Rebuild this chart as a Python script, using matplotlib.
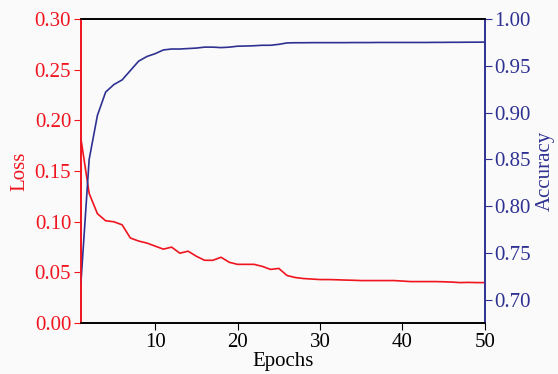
import numpy as np
import matplotlib.pyplot as plt

plt.rcParams['font.family'] = ['Liberation Serif', 'DejaVu Serif']

epochs = np.arange(1, 51)
loss = [0.182, 0.128, 0.108, 0.101, 0.100, 0.097, 0.084, 0.081, 0.079, 0.076,
        0.073, 0.075, 0.069, 0.071, 0.066, 0.062, 0.062, 0.065, 0.060, 0.058,
        0.058, 0.058, 0.056, 0.053, 0.054, 0.047, 0.045, 0.044, 0.0435, 0.043,
        0.043, 0.0428, 0.0425, 0.0423, 0.042, 0.042, 0.042, 0.042, 0.042, 0.0415,
        0.041, 0.041, 0.041, 0.041, 0.0408, 0.0405, 0.040, 0.0402, 0.040, 0.040]
accuracy = [0.718, 0.850, 0.897, 0.922, 0.930, 0.935, 0.945, 0.955, 0.960, 0.963,
            0.967, 0.968, 0.968, 0.9685, 0.969, 0.970, 0.970, 0.9695, 0.970, 0.971,
            0.9712, 0.9715, 0.972, 0.972, 0.973, 0.9745, 0.9747, 0.9747, 0.9748, 0.9748,
            0.9748, 0.9748, 0.9748, 0.9749, 0.9749, 0.9749, 0.975, 0.975, 0.975, 0.975,
            0.975, 0.975, 0.975, 0.9751, 0.9751, 0.9752, 0.9752, 0.9753, 0.9753, 0.9754]

red = '#f0141e'
navy = '#2e3192'

fig = plt.figure(figsize=(5.58, 3.74), dpi=100, facecolor='#fafafa')
ax = fig.add_axes([0.145, 0.136, 0.724, 0.813])
ax.set_facecolor('#fafafa')
ax2 = ax.twinx()

ax.plot(epochs, loss, color=red, lw=1.2)
ax2.plot(epochs, accuracy, color=navy, lw=1.2)

ax.set_xlim(1, 50)
ax.set_xticks([10, 20, 30, 40, 50])
ax.set_ylim(0, 0.30)
ax.set_yticks(np.arange(0, 0.31, 0.05))
ax.yaxis.set_major_formatter(plt.FormatStrFormatter('%.2f'))
ax2.set_ylim(0.675, 1.00)
ax2.set_yticks(np.arange(0.70, 1.001, 0.05))
ax2.yaxis.set_major_formatter(plt.FormatStrFormatter('%.2f'))

fs = 15
ax.set_xlabel('Epochs', fontsize=fs, labelpad=0)
ax.set_ylabel('Loss', fontsize=fs, color=red, labelpad=4)
ax2.set_ylabel('Accuracy', fontsize=fs, color=navy, labelpad=3)

ax.tick_params(axis='x', direction='out', length=5, labelsize=fs, pad=2)
ax.tick_params(axis='y', direction='out', length=5, labelsize=fs, colors=red, pad=2)
ax2.tick_params(axis='y', direction='out', length=5, labelsize=fs, colors=navy, pad=2)

ax2.spines['left'].set_color(red)
ax2.spines['right'].set_color(navy)
ax.spines['left'].set_color(red)
ax.spines['right'].set_color(navy)
for a in (ax, ax2):
    for s in a.spines.values():
        s.set_linewidth(1.2)

fig.savefig('out.png', dpi=100, facecolor=fig.get_facecolor())
